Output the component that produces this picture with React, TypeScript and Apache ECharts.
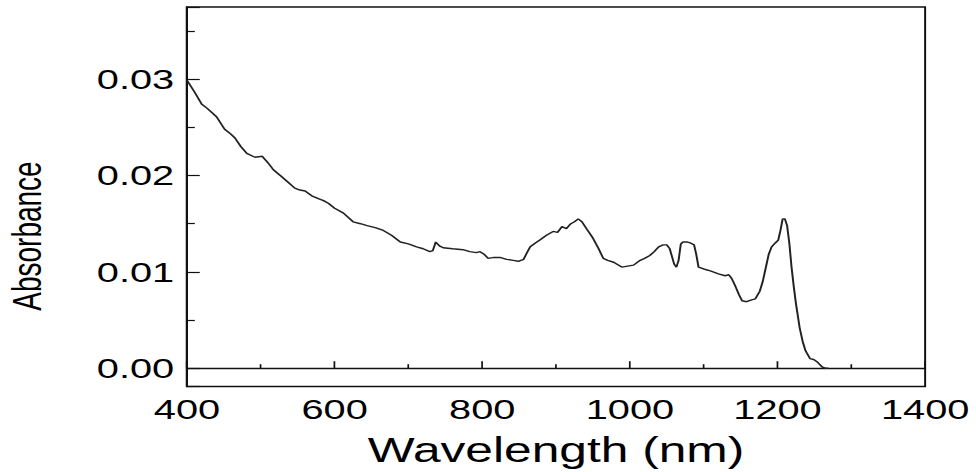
import React, { useEffect, useRef } from "react";
import * as echarts from "echarts";

const wavelength: number[] = [
  400, 410, 420, 427, 440, 451, 458, 465, 473, 481, 492, 502, 510, 517, 528, 537, 546, 553, 560, 569,
  578, 585, 592, 600, 612, 625, 635, 644, 655, 666, 677, 689, 700, 711, 720, 729, 733, 737, 742, 747,
  760, 774, 783, 792, 797, 803, 808, 816, 824, 833, 842, 849, 856, 860, 865, 872, 878, 887, 896, 902,
  908, 914, 920, 925, 930, 935, 942, 950, 957, 964, 970, 978, 989, 997, 1005, 1014, 1020, 1027, 1033, 1039,
  1045, 1050, 1054, 1057, 1060, 1063, 1066, 1069, 1072, 1078, 1082, 1087, 1090, 1093, 1100, 1109, 1120, 1129, 1134, 1138,
  1143, 1148, 1152, 1158, 1165, 1170, 1176, 1180, 1184, 1188, 1192, 1197, 1201, 1204, 1207, 1210, 1213, 1216, 1219, 1222,
  1225, 1230, 1234, 1238, 1244, 1249, 1253, 1257, 1261, 1265, 1269,
];

const absorbance: number[] = [
  0.0299, 0.0287, 0.0274, 0.027, 0.0261, 0.0248, 0.0244, 0.0239, 0.023, 0.0223, 0.0219, 0.022, 0.0213, 0.0206, 0.0199, 0.0193, 0.0187, 0.0185, 0.0184, 0.0179,
  0.0176, 0.0174, 0.0171, 0.0166, 0.0161, 0.0152, 0.015, 0.0148, 0.0146, 0.0143, 0.0138, 0.0131, 0.0129, 0.0126, 0.0124, 0.0121, 0.0122, 0.0131, 0.0127, 0.0125,
  0.0124, 0.0123, 0.0121, 0.012, 0.0121, 0.0118, 0.0114, 0.0115, 0.0115, 0.0113, 0.0112, 0.0111, 0.0113, 0.0119, 0.0126, 0.013, 0.0133, 0.0138, 0.0142, 0.0141,
  0.0147, 0.0145, 0.015, 0.0152, 0.0155, 0.0152, 0.0144, 0.0135, 0.0125, 0.0114, 0.0112, 0.011, 0.0105, 0.0106, 0.0107, 0.0112, 0.0114, 0.0117, 0.0121, 0.0126,
  0.0128, 0.0128, 0.0124, 0.0116, 0.0108, 0.0105, 0.0112, 0.0129, 0.0131, 0.0131, 0.013, 0.0128, 0.0118, 0.0105, 0.0103, 0.0101, 0.0098, 0.0096, 0.0097, 0.0093,
  0.0085, 0.0076, 0.007, 0.0069, 0.0071, 0.0072, 0.008, 0.009, 0.0104, 0.0118, 0.0126, 0.013, 0.0133, 0.0143, 0.0155, 0.0155, 0.0148, 0.013, 0.0105, 0.0085,
  0.0067, 0.0042, 0.0028, 0.0018, 0.001, 0.0009, 0.0007, 0.0004, 0.0001, 0.0, 0.0,
];

const xTitle = "Wavelength (nm)";
const yTitle = "Absorbance";

const S = 1.42; // horizontal stretch of the reference
const FONT = "'Liberation Sans', Arial, sans-serif";

export default function App() {
  const ref = useRef<HTMLDivElement>(null);

  useEffect(() => {
    if (!ref.current) return;
    const chart = echarts.init(ref.current, undefined, { renderer: "svg" });
    const data = wavelength.map((w, i) => [w, absorbance[i]]);
    chart.setOption({
      animation: false,
      backgroundColor: "#ffffff",
      grid: {
        left: 187 / S,
        right: 35.5,
        top: 7,
        bottom: 472 - 386.5,
        containLabel: false,
        outerBoundsMode: "none",
        show: true,
        borderColor: "#111",
        borderWidth: 1.4,
        backgroundColor: "transparent",
      },
      xAxis: {
        type: "value",
        min: 400,
        max: 1400,
        interval: 200,
        name: xTitle,
        nameLocation: "middle",
        nameGap: 46,
        nameTextStyle: { fontFamily: FONT, fontSize: 35, color: "#000" },
        axisLine: { show: true, lineStyle: { color: "#111", width: 1.4 } },
        axisTick: { show: true, inside: true, length: 7, lineStyle: { color: "#111", width: 1.2 } },
        minorTick: { show: true, splitNumber: 2, length: 4, lineStyle: { color: "#111", width: 1.2 } },
        splitLine: { show: false },
        minorSplitLine: { show: false },
        axisLabel: {
          fontFamily: FONT,
          fontSize: 28,
          color: "#000",
          margin: 9,
          formatter: (v: number) => String(v),
        },
      },
      yAxis: {
        type: "value",
        min: -0.0019,
        max: 0.0375,
        splitNumber: 4,
        axisLine: { show: true, lineStyle: { color: "#111", width: 1.4 } },
        axisTick: { show: true, inside: true, length: 9, lineStyle: { color: "#111", width: 1.2 } },
        minorTick: { show: true, splitNumber: 2, length: 5.5, lineStyle: { color: "#111", width: 1.2 } },
        splitLine: { show: false },
        minorSplitLine: { show: false },
        axisLabel: {
          fontFamily: FONT,
          fontSize: 28,
          color: "#000",
          margin: 9,
          showMinLabel: false,
          showMaxLabel: false,
          formatter: (v: number) => v.toFixed(2),
        },
      },
      graphic: [
        {
          type: "text",
          x: 19.4,
          y: 236,
          rotation: Math.PI / 2,
          style: {
            text: yTitle,
            fontFamily: FONT,
            fontSize: 28,
            fill: "#000",
            align: "center",
            verticalAlign: "middle",
          },
        },
      ],
      series: [
        {
          type: "line",
          data,
          showSymbol: false,
          symbol: "none",
          lineStyle: { color: "#222", width: 1.4 },
          z: 3,
        },
      ],
    });
    return () => chart.dispose();
  }, []);

  return (
    <div style={{ position: "absolute", left: 0, top: 0, width: 976, height: 472, overflow: "hidden", background: "#fff" }}>
      <div
        ref={ref}
        style={{ width: 976 / S, height: 472, transform: `scaleX(${S})`, transformOrigin: "0 0" }}
      />
    </div>
  );
}
